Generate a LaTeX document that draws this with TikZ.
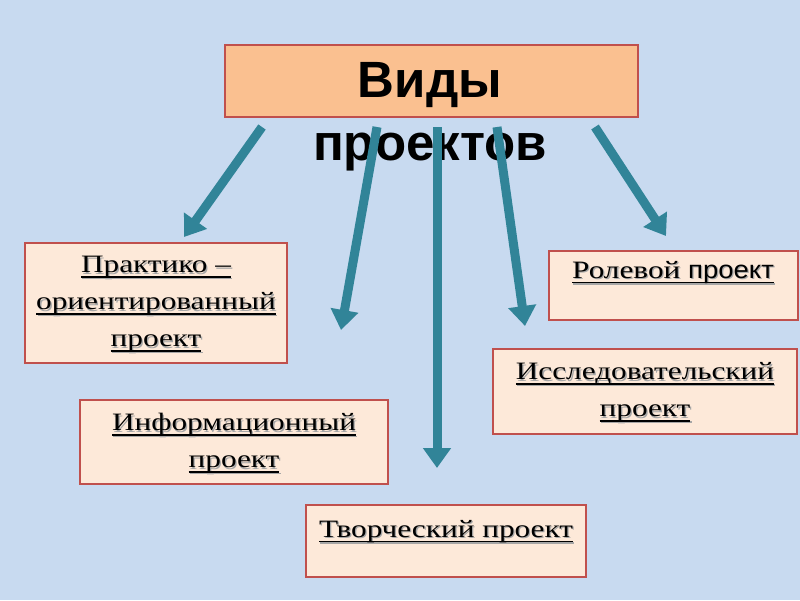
\documentclass[tikz,border=0pt]{standalone}
\usepackage{fontspec}
\setmainfont{Liberation Serif}
\newfontfamily\boxfont[FakeStretch=1.25]{Liberation Serif}
\newfontfamily\boxsansfont[FakeStretch=1.1]{Liberation Sans}
\newfontfamily\titlefont{Liberation Sans}
\usetikzlibrary{arrows.meta}
\definecolor{bg}{RGB}{200,218,240}
\definecolor{titlefill}{RGB}{250,192,144}
\definecolor{boxfill}{RGB}{253,233,217}
\definecolor{boxborder}{RGB}{192,80,77}
\definecolor{teal}{RGB}{49,132,152}
\newcommand\ulx[1]{\setbox0\hbox{#1}\rlap{\raisebox{-5pt}{\rule{\wd0}{1.6pt}}}\box0}
\newcommand\shl[1]{\makebox[0pt][l]{\kern1.3pt\raisebox{-1.3pt}{\textcolor{black!35}{\ulx{#1}}}}\ulx{#1}}
\tikzset{
  titlebox/.style={draw=boxborder, line width=1.5pt, fill=titlefill, minimum width=413pt, minimum height=72pt, inner sep=0pt},
  kindbox/.style={draw=boxborder, line width=2pt, fill=boxfill, inner sep=0pt},
  kindtext/.style={align=center, inner sep=0pt, font=\boxfont\fontsize{25}{37}\selectfont},
  bigarrow/.style={draw=teal, line width=9pt, -{Triangle[width=27pt,length=20pt]}}
}
\begin{document}
\begin{tikzpicture}[x=1pt,y=-1pt]
\fill[bg] (0,0) rectangle (800,600);
\useasboundingbox (0,0) rectangle (800,600);
% title
\node[titlebox] (title) at (431.5,81) {};
\node[font=\titlefont\bfseries\fontsize{51}{63}\selectfont, align=center, inner sep=0pt] (titletext) at (430,117) {Виды\\проектов};
% boxes
\node[kindbox, minimum width=262pt, minimum height=120pt] (prakt) at (156,303) {};
\node[kindtext] (prakttext) at (156,305) {\shl{Практико –}\\\shl{ориентированный}\\\shl{проект}};
\node[kindbox, minimum width=249pt, minimum height=69pt] (rol) at (673.5,285.5) {};
\node[kindtext] (roltext) at (673,273) {\shl{Ролевой {\boxsansfont проект}}};
\node[kindbox, minimum width=308pt, minimum height=84pt] (info) at (234,442) {};
\node[kindtext] (infotext) at (234,444) {\shl{Информационный}\\\shl{проект}};
\node[kindbox, minimum width=304pt, minimum height=85pt] (issl) at (645,391.5) {};
\node[kindtext] (issltext) at (645,393) {\shl{Исследовательский}\\\shl{проект}};
\node[kindbox, minimum width=280pt, minimum height=72pt] (tvor) at (446,541) {};
\node[kindtext] (tvortext) at (446,532) {\shl{Творческий проект}};
% arrows
\coordinate (s1) at (262,127); \coordinate (e1) at (184,237);
\coordinate (s2) at (377,127); \coordinate (e2) at (341,330);
\coordinate (s3) at (437,127); \coordinate (e3) at (437,468);
\coordinate (s4) at (497,127); \coordinate (e4) at (525,326);
\coordinate (s5) at (595,127); \coordinate (e5) at (666,236);
\draw[bigarrow] (s1) -- (e1);
\draw[bigarrow] (s2) -- (e2);
\draw[bigarrow] (s3) -- (e3);
\draw[bigarrow] (s4) -- (e4);
\draw[bigarrow] (s5) -- (e5);
\end{tikzpicture}
\end{document}
